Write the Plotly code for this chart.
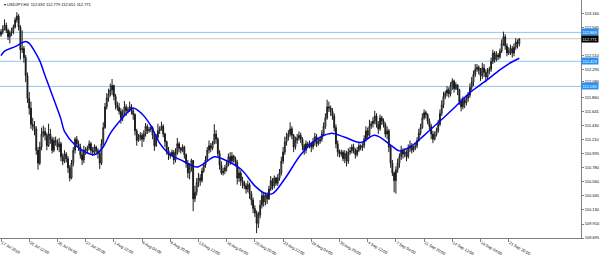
import plotly.graph_objects as go

# ---------------- data ----------------
first_open = 112.83
closes = [
112.88,
112.92,112.98,112.90,112.80,112.86,112.88,
112.95,113.06,113.12,112.95,112.60,112.62,
112.48,112.20,111.85,111.70,111.45,111.42,
111.38,111.05,110.85,111.10,111.30,111.34,
111.28,111.12,111.30,111.22,111.05,111.20,
111.18,111.10,111.15,110.95,110.88,110.99,
110.92,110.78,110.62,110.85,111.05,111.22,
111.15,111.10,110.98,110.90,111.05,111.04,
111.08,111.15,111.05,111.02,111.10,111.04,
111.00,110.85,111.15,111.40,111.72,111.86,
111.92,111.98,112.05,111.88,111.75,111.71,
111.65,111.55,111.62,111.72,111.66,111.68,
111.72,111.66,111.60,111.35,111.20,111.25,
111.28,111.22,111.30,111.42,111.35,111.37,
111.40,111.28,111.12,111.25,111.35,111.38,
111.42,111.30,111.18,111.05,110.98,110.97,
111.02,110.90,111.00,111.15,111.08,111.05,
111.10,110.98,110.85,110.70,110.78,110.89,
110.30,110.40,110.55,110.62,110.58,110.73,
110.82,110.90,111.05,111.12,111.08,111.16,
111.30,111.22,111.00,110.82,110.70,110.73,
110.78,110.85,110.95,110.88,110.96,110.91,
110.86,110.62,110.70,110.58,110.55,110.50,
110.45,110.52,110.38,110.28,110.15,110.08,
109.92,110.05,110.20,110.35,110.25,110.36,
110.30,110.45,110.58,110.50,110.62,110.54,
110.62,110.70,110.88,111.02,111.18,111.25,
111.30,111.38,111.28,111.10,111.20,111.24,
111.28,111.22,111.12,111.05,111.15,111.13,
111.15,111.10,111.18,111.26,111.15,111.19,
111.22,111.30,111.42,111.55,111.72,111.70,
111.65,111.58,111.40,111.15,111.02,110.99,
111.02,110.92,111.00,110.88,111.02,111.04,
111.10,111.05,110.98,111.05,111.12,111.09,
111.12,111.22,111.35,111.28,111.42,111.46,
111.50,111.58,111.45,111.38,111.55,111.50,
111.45,111.30,111.35,111.10,110.85,110.70,
110.58,110.75,110.85,110.95,111.05,110.99,
111.02,110.95,111.08,111.12,111.05,111.09,
111.12,111.20,111.32,111.40,111.55,111.63,
111.60,111.50,111.42,111.30,111.22,111.29,
111.35,111.45,111.62,111.75,111.88,111.93,
111.98,111.92,112.05,112.12,112.00,112.06,
111.98,111.80,111.72,111.82,111.78,111.85,
111.90,112.02,112.10,112.22,112.30,112.33,
112.28,112.20,112.32,112.25,112.18,112.27,
112.30,112.42,112.55,112.45,112.52,112.49,
112.58,112.70,112.80,112.66,112.55,112.58,
112.62,112.55,112.64,112.72,112.692,112.771]

highs = [
112.92,
112.98,113.07,113.02,112.93,112.90,112.94,
112.99,113.10,113.18,113.15,112.98,112.90,
112.66,112.52,112.25,111.95,111.80,111.55,
111.50,111.42,111.10,111.18,111.40,111.43,
111.40,111.32,111.46,111.38,111.26,111.25,
111.26,111.22,111.24,111.18,111.00,111.05,
111.02,110.96,110.82,110.90,111.10,111.25,
111.27,111.20,111.15,111.05,111.12,111.10,
111.12,111.20,111.18,111.10,111.14,111.12,
111.08,111.05,111.22,111.48,111.78,111.93,
112.00,112.08,112.15,112.06,111.92,111.80,
111.78,111.70,111.68,111.81,111.76,111.72,
111.80,111.76,111.70,111.62,111.38,111.30,
111.33,111.32,111.36,111.47,111.45,111.41,
111.44,111.42,111.30,111.30,111.46,111.42,
111.49,111.45,111.32,111.20,111.10,111.02,
111.06,111.05,111.08,111.24,111.18,111.10,
111.14,111.12,111.00,110.90,110.85,110.92,
110.90,110.50,110.62,110.70,110.68,110.78,
110.86,110.96,111.10,111.20,111.16,111.19,
111.45,111.36,111.25,111.05,110.88,110.78,
110.82,110.90,111.00,111.02,111.02,110.98,
110.95,110.90,110.78,110.74,110.64,110.58,
110.54,110.58,110.55,110.42,110.32,110.20,
110.12,110.10,110.28,110.42,110.40,110.40,
110.40,110.50,110.65,110.62,110.66,110.64,
110.68,110.76,110.95,111.10,111.26,111.32,
111.36,111.48,111.42,111.30,111.26,111.30,
111.34,111.32,111.25,111.15,111.20,111.18,
111.20,111.18,111.24,111.32,111.30,111.24,
111.26,111.36,111.48,111.62,111.83,111.80,
111.74,111.70,111.62,111.45,111.20,111.06,
111.06,111.05,111.05,111.04,111.08,111.10,
111.14,111.15,111.08,111.10,111.16,111.14,
111.16,111.28,111.42,111.40,111.52,111.50,
111.56,111.66,111.62,111.50,111.60,111.58,
111.54,111.48,111.42,111.38,111.12,110.90,
110.72,110.80,110.92,111.00,111.12,111.08,
111.08,111.05,111.14,111.20,111.16,111.12,
111.16,111.25,111.38,111.46,111.62,111.68,
111.66,111.62,111.54,111.46,111.35,111.34,
111.40,111.52,111.68,111.82,111.95,111.97,
112.04,112.02,112.10,112.16,112.14,112.10,
112.06,112.00,111.85,111.88,111.86,111.90,
111.95,112.08,112.18,112.28,112.38,112.38,
112.36,112.32,112.40,112.38,112.30,112.32,
112.34,112.48,112.60,112.58,112.58,112.55,
112.62,112.76,112.88,112.84,112.70,112.64,
112.68,112.66,112.70,112.78,112.76,112.779]

lows = [
112.80,
112.84,112.90,112.86,112.75,112.70,112.81,
112.84,112.93,113.02,112.90,112.45,112.55,
112.40,112.10,111.78,111.60,111.38,111.35,
111.28,110.98,110.75,110.82,111.05,111.25,
111.20,111.05,111.10,111.15,111.00,111.02,
111.12,111.05,111.02,110.88,110.82,110.85,
110.86,110.70,110.57,110.60,110.80,111.00,
111.10,111.04,110.92,110.82,110.85,110.98,
111.00,111.05,111.00,110.96,110.98,111.00,
110.92,110.76,110.82,111.10,111.38,111.68,
111.80,111.88,111.90,111.82,111.68,111.66,
111.60,111.46,111.50,111.58,111.58,111.62,
111.64,111.60,111.52,111.28,111.12,111.18,
111.20,111.10,111.18,111.26,111.30,111.32,
111.33,111.22,111.04,111.10,111.22,111.30,
111.35,111.25,111.10,110.98,110.90,110.92,
110.95,110.83,110.86,110.98,111.02,111.00,
111.02,110.92,110.78,110.62,110.60,110.72,
110.11,110.25,110.35,110.48,110.50,110.55,
110.70,110.78,110.88,111.00,111.02,111.05,
111.14,111.15,110.95,110.75,110.67,110.66,
110.68,110.72,110.80,110.82,110.84,110.86,
110.80,110.52,110.56,110.50,110.46,110.45,
110.38,110.40,110.30,110.20,110.08,110.02,
109.77,109.85,110.00,110.15,110.18,110.20,
110.22,110.28,110.42,110.44,110.46,110.50,
110.50,110.58,110.66,110.84,110.98,111.12,
111.20,111.26,111.22,111.02,111.06,111.15,
111.20,111.16,111.05,110.98,111.00,111.08,
111.08,111.02,111.06,111.12,111.10,111.12,
111.15,111.18,111.28,111.38,111.52,111.64,
111.58,111.52,111.34,111.08,110.95,110.94,
110.95,110.88,110.85,110.80,110.84,110.98,
111.00,111.00,110.92,110.95,111.02,111.05,
111.04,111.08,111.18,111.22,111.26,111.38,
111.40,111.45,111.40,111.30,111.35,111.44,
111.40,111.25,111.22,111.02,110.78,110.65,
110.40,110.38,110.70,110.78,110.90,110.92,
110.94,110.88,110.92,111.02,111.00,111.02,
111.05,111.08,111.18,111.28,111.38,111.52,
111.54,111.45,111.36,111.22,111.16,111.20,
111.26,111.32,111.42,111.58,111.70,111.84,
111.88,111.86,111.88,111.98,111.94,111.98,
111.90,111.75,111.65,111.68,111.70,111.74,
111.80,111.86,111.98,112.04,112.18,112.26,
112.22,112.12,112.15,112.18,112.10,112.14,
112.22,112.26,112.38,112.40,112.42,112.44,
112.46,112.55,112.66,112.60,112.50,112.52,
112.52,112.48,112.50,112.60,112.62,112.651]

# moving average (blue line) read at sample bars
ma_bars = [0, 2, 8, 14, 16, 19, 22, 25, 28, 31, 34, 36, 42, 48, 53, 58, 62, 68, 72, 75,
           80, 85, 90, 96, 102, 107, 111, 116, 121, 127, 136, 144, 150, 154, 161, 170,
           178, 187, 195, 204, 212, 221, 226, 232, 240, 249, 258, 266, 275, 283, 289, 294]
ma_vals = [112.51, 112.58, 112.65, 112.73, 112.70, 112.58, 112.43, 112.20, 111.98, 111.76,
           111.53, 111.34, 111.13, 111.02, 110.98, 111.10, 111.31, 111.52, 111.64, 111.70,
           111.61, 111.43, 111.16, 110.98, 110.90, 110.83, 110.79, 110.86, 110.95, 110.90,
           110.76, 110.50, 110.38, 110.38, 110.61, 110.98, 111.20, 111.31, 111.25, 111.17,
           111.28, 111.13, 111.04, 111.10, 111.28, 111.50, 111.73, 111.94, 112.12, 112.29,
           112.40, 112.47]

x_labels = ["17 Jul 2018", "20 Jul 12:00", "25 Jul 04:00", "27 Jul 20:00", "1 Aug 12:00",
            "6 Aug 04:00", "8 Aug 20:00", "13 Aug 12:00", "16 Aug 04:00", "20 Aug 20:00",
            "23 Aug 12:00", "28 Aug 04:00", "30 Aug 20:00", "4 Sep 12:00", "7 Sep 04:00",
            "11 Sep 20:00", "14 Sep 12:00", "19 Sep 04:00", "21 Sep 20:00"]
x_label_bars = [0, 16, 32, 48, 64, 80, 96, 112, 128, 144, 160, 176, 192, 208, 224, 240,
                256, 272, 288]

# price scale labels (112.730 sits under the black price box, as in the reference)
y_labels = ["109.695", "109.910", "110.130", "110.345", "110.560", "110.780", "110.995",
            "111.210", "111.430", "111.645", "111.860", "112.080", "112.295", "112.510",
            "112.945", "113.160"]
y_label_prices = [109.695, 109.910, 110.130, 110.345, 110.560, 110.780, 110.995,
                  111.210, 111.430, 111.645, 111.860, 112.105, 112.295, 112.510,
                  112.945, 113.160]

level_prices = [112.869, 112.423, 112.035]
level_texts = ["112.869", "112.423", "112.035"]
bid_price = 112.771
bid_text = "112.771"
title_text = "USDJPY,H4  112.692 112.779 112.651 112.771"

# ---------------- figure ----------------
n = len(closes)
bars = list(range(n))
opens = [first_open] + closes[:-1]
hi = [max(h, o, c) for h, o, c in zip(highs, opens, closes)]
lo = [min(l, o, c) for l, o, c in zip(lows, opens, closes)]

fig = go.Figure()
fig.add_trace(go.Candlestick(
    x=bars, open=opens, high=hi, low=lo, close=closes,
    increasing=dict(line=dict(color="#1a1a1a", width=1), fillcolor="#ffffff"),
    decreasing=dict(line=dict(color="#1a1a1a", width=1), fillcolor="#1a1a1a"),
    whiskerwidth=0, showlegend=False, hoverinfo="skip"))
fig.add_trace(go.Scatter(
    x=ma_bars, y=ma_vals, mode="lines", line=dict(color="#0000ff", width=1.5, shape="spline"),
    showlegend=False, hoverinfo="skip"))

shapes = []
for p in level_prices:
    shapes.append(dict(type="line", xref="paper", x0=0, x1=1, yref="y", y0=p, y1=p,
                       line=dict(color="#8cc8f5", width=1), layer="below"))
shapes.append(dict(type="line", xref="paper", x0=0, x1=1, yref="y", y0=bid_price, y1=bid_price,
                   line=dict(color="#c8c8c8", width=1), layer="below"))

font_family = "Liberation Sans, Arial, sans-serif"
annotations = []
for p, t in zip(level_prices, level_texts):
    annotations.append(dict(xref="paper", x=1.0, xanchor="left", yref="y", y=p, yanchor="middle",
                            text=t, showarrow=False, bgcolor="#2a8ff0", borderpad=0.5,
                            font=dict(color="#ffffff", size=4, family=font_family)))
annotations.append(dict(xref="paper", x=1.0, xanchor="left", yref="y", y=bid_price, yanchor="middle",
                        text=bid_text, showarrow=False, bgcolor="#000000", borderpad=0.5,
                        font=dict(color="#ffffff", size=4, family=font_family)))
annotations.append(dict(xref="paper", x=0.003, xanchor="left", yref="paper", y=1.0, yanchor="top",
                        text="\u25BE " + title_text, showarrow=False,
                        font=dict(color="#000000", size=4, family=font_family)))

fig.update_layout(
    width=600, height=257,
    margin=dict(l=0, r=19, t=0, b=11),
    paper_bgcolor="#ffffff", plot_bgcolor="#ffffff",
    shapes=shapes, annotations=annotations,
    xaxis=dict(range=[-0.57, 329], showgrid=False, zeroline=False, rangeslider=dict(visible=False),
               showline=True, linecolor="#808080", linewidth=1, mirror=False,
               tickmode="array", tickvals=x_label_bars, ticktext=x_labels,
               ticks="outside", ticklen=3, tickcolor="#808080", ticklabelposition="outside right",
               tickfont=dict(size=4, color="#000000", family=font_family)),
    yaxis=dict(range=[109.695, 113.369], side="right", showgrid=False, zeroline=False,
               showline=True, linecolor="#808080", linewidth=1,
               tickmode="array", tickvals=y_label_prices, ticktext=y_labels,
               ticks="outside", ticklen=2, tickcolor="#808080",
               tickfont=dict(size=4, color="#000000", family=font_family)),
)

fig.write_html("out.html")
